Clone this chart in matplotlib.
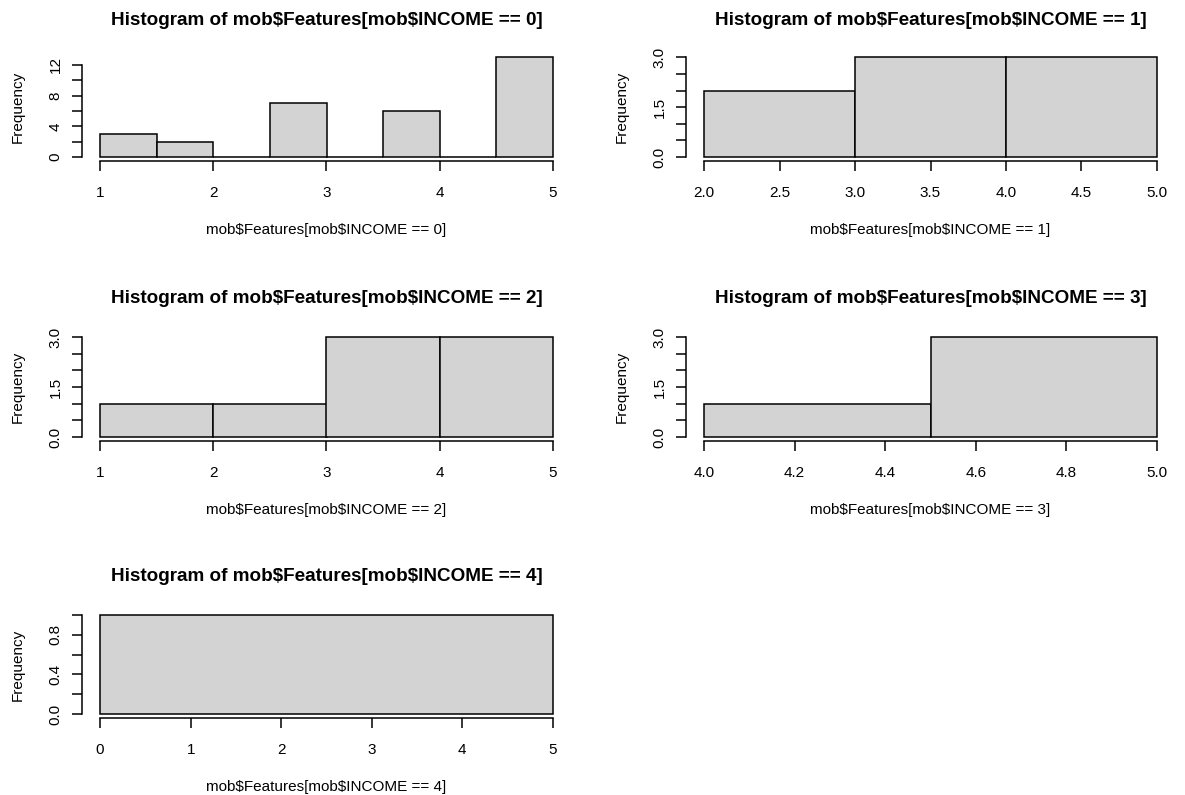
import numpy as np
import matplotlib.pyplot as plt

plt.rcParams['font.family'] = ['Liberation Sans', 'DejaVu Sans']
plt.rcParams['text.parse_math'] = False  # keep the "$" in the labels literal

# histogram data (bin edges + counts)
breaks0 = [1, 1.5, 2, 2.5, 3, 3.5, 4, 4.5, 5]
counts0 = [3, 2, 0, 7, 0, 6, 0, 13]
breaks1 = [2, 3, 4, 5]
counts1 = [2, 3, 3]
breaks2 = [1, 2, 3, 4, 5]
counts2 = [1, 1, 3, 3]
breaks3 = [4, 4.5, 5]
counts3 = [1, 3]
breaks4 = [0, 5]
counts4 = [1]

# axis ticks (R drops some labels where they would overlap)
xticks0 = [1, 2, 3, 4, 5]
xtlab0 = ['1', '2', '3', '4', '5']
yticks0 = [0, 2, 4, 6, 8, 10, 12]
ytlab0 = ['0', '', '4', '', '8', '', '12']

xticks1 = [2.0, 2.5, 3.0, 3.5, 4.0, 4.5, 5.0]
xtlab1 = ['2.0', '2.5', '3.0', '3.5', '4.0', '4.5', '5.0']
yticks1 = [0, 0.5, 1.0, 1.5, 2.0, 2.5, 3.0]
ytlab1 = ['0.0', '', '', '1.5', '', '', '3.0']

xticks2 = [1, 2, 3, 4, 5]
xtlab2 = ['1', '2', '3', '4', '5']
yticks2 = yticks1
ytlab2 = ytlab1

xticks3 = [4.0, 4.2, 4.4, 4.6, 4.8, 5.0]
xtlab3 = ['4.0', '4.2', '4.4', '4.6', '4.8', '5.0']
yticks3 = yticks1
ytlab3 = ytlab1

xticks4 = [0, 1, 2, 3, 4, 5]
xtlab4 = ['0', '1', '2', '3', '4', '5']
yticks4 = [0, 0.2, 0.4, 0.6, 0.8, 1.0]
ytlab4 = ['0.0', '', '0.4', '', '0.8', '']

panels = [
    (breaks0, counts0, xticks0, xtlab0, yticks0, ytlab0),
    (breaks1, counts1, xticks1, xtlab1, yticks1, ytlab1),
    (breaks2, counts2, xticks2, xtlab2, yticks2, ytlab2),
    (breaks3, counts3, xticks3, xtlab3, yticks3, ytlab3),
    (breaks4, counts4, xticks4, xtlab4, yticks4, ytlab4),
]

W, H = 1185, 795
fig = plt.figure(figsize=(W / 100, H / 100), dpi=100)

# plot regions in pixels (left, right) and (top, bottom)
cols = [(82, 571), (686, 1175)]
rows = [(53.3, 161), (333, 441), (611, 718)]
title_off = [33, 34.5, 34.5]

PX = 0.72  # points per pixel at dpi 100
for i, (br, cnt, xt, xtl, yt, ytl) in enumerate(panels):
    c0, c1 = cols[i % 2]
    r0, r1 = rows[i // 2]
    ax = fig.add_axes([c0 / W, 1 - r1 / H, (c1 - c0) / W, (r1 - r0) / H])

    ax.bar(br[:-1], cnt, width=np.diff(br), align='edge',
           color='#d3d3d3', edgecolor='black', linewidth=1.1)

    # R style 4% padding on both axes
    xr = br[-1] - br[0]
    ymax = max(cnt)
    ax.set_xlim(br[0] - 0.04 * xr, br[-1] + 0.04 * xr)
    ax.set_ylim(-0.04 * ymax, 1.04 * ymax)

    ax.set_xticks(xt, labels=xtl)
    ax.set_yticks(yt, labels=ytl)
    for s in ['top', 'right']:
        ax.spines[s].set_visible(False)
    ax.spines['bottom'].set_bounds(xt[0], xt[-1])
    ax.spines['left'].set_bounds(yt[0], yt[-1])
    for s in ['bottom', 'left']:
        ax.spines[s].set_linewidth(1.1)
    ax.tick_params(direction='out', length=7.3, width=1.1, labelsize=11)
    ax.tick_params(axis='x', pad=11)
    ax.tick_params(axis='y', pad=6.5, labelrotation=90)
    for lab in ax.get_yticklabels():
        lab.set_va('center')

    ax.annotate("Histogram of mob$Features[mob$INCOME == %d]" % i,
                xy=(0.5, 1), xycoords='axes fraction',
                xytext=(0, title_off[i // 2] * PX), textcoords='offset points',
                ha='center', va='center', fontsize=13.6, fontweight='bold')
    ax.annotate("mob$Features[mob$INCOME == %d]" % i,
                xy=(0.5, 0), xycoords='axes fraction',
                xytext=(0, -69 * PX), textcoords='offset points',
                ha='center', va='center', fontsize=11)
    ax.annotate("Frequency",
                xy=(0, 0.5), xycoords='axes fraction',
                xytext=(-64.5 * PX, 0), textcoords='offset points',
                ha='center', va='center', fontsize=11, rotation=90)

fig.savefig('out.png', dpi=100)
